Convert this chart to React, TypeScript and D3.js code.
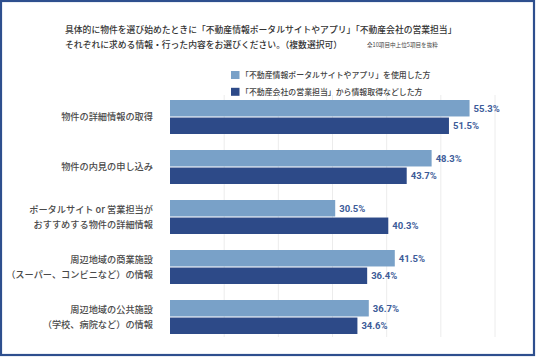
import React from "react";
import * as d3 from "d3";

const categories: string[][] = [
  ["物件の詳細情報の取得"],
  ["物件の内見の申し込み"],
  ["ポータルサイト or 営業担当が", "おすすめする物件の詳細情報"],
  ["周辺地域の商業施設", "（スーパー、コンビニなど）の情報"],
  ["周辺地域の公共施設", "（学校、病院など）の情報"],
];
const portalValues = [55.3, 48.3, 30.5, 41.5, 36.7];
const salesValues = [51.5, 43.7, 40.3, 36.4, 34.6];
const seriesNames = [
  "「不動産情報ポータルサイトやアプリ」を使用した方",
  "「不動産会社の営業担当」から情報取得などした方",
];
const gridTicks = [10, 20, 30, 40, 50, 60];
const titleLines = [
  "具体的に物件を選び始めたときに「不動産情報ポータルサイトやアプリ」「不動産会社の営業担当」",
  "それぞれに求める情報・行った内容をお選びください。（複数選択可）",
];
const note = "全10項目中上位5項目を抜粋";

const W = 536;
const H = 357;
const LIGHT = "#79a1c8";
const DARK = "#2d4a88";
const FONT = "'Noto Sans CJK JP', 'Noto Sans', sans-serif";
const NUMFONT = "'Liberation Sans Narrow', 'Roboto', sans-serif";

export default function App() {
  const keys = categories.map((c) => c.join(""));
  const x = d3.scaleLinear().domain([0, 60]).range([170, 495]);
  const y = d3
    .scaleBand<string>()
    .domain(keys)
    .range([92, 342])
    .paddingInner(0.32)
    .paddingOuter(0.16);
  const sub = d3
    .scaleBand<string>()
    .domain(["portal", "sales"])
    .range([0, y.bandwidth()])
    .paddingInner(0.06);
  const series = [
    { key: "portal", values: portalValues, color: LIGHT },
    { key: "sales", values: salesValues, color: DARK },
  ];

  return (
    <svg
      width={W}
      height={H}
      style={{ position: "absolute", left: 0, top: 0, background: "#fff" }}
    >
      <rect x={1} y={1} width={W - 3} height={H - 3} fill="#fff" stroke="#2e4f8e" strokeWidth={2.2} />
      {titleLines.map((t, i) => (
        <text key={i} x={65} y={32.5 + i * 15} fontFamily={FONT} fontSize={8.8} fontWeight={500} fill="#333">
          {t}
        </text>
      ))}
      <text x={367} y={46.5} fontFamily={FONT} fontSize={5.6} fill="#444">
        {note}
      </text>
      {series.map((s, i) => (
        <g key={s.key}>
          <rect x={231} y={71 + i * 16.8} width={8.5} height={8} fill={s.color} />
          <text x={241} y={75 + i * 16.8} dy="0.35em" fontFamily={FONT} fontSize={7.9} fontWeight={500} fill="#444">
            {seriesNames[i]}
          </text>
        </g>
      ))}
      {gridTicks.map((t) => (
        <line key={t} x1={x(t)} x2={x(t)} y1={95} y2={337} stroke="#ececec" strokeWidth={1} />
      ))}
      {keys.map((k, ci) => {
        const y0 = y(k)!;
        const lines = categories[ci];
        const cy = y0 + y.bandwidth() / 2;
        return (
          <g key={k}>
            {lines.map((ln, li) => (
              <text
                key={li}
                x={153}
                y={cy + (li - (lines.length - 1) / 2) * 15}
                dy="0.35em"
                textAnchor="end"
                fontFamily={FONT}
                fontSize={9.2}
                fontWeight={500}
                fill="#4a4a4a"
              >
                {ln}
              </text>
            ))}
            {series.map((s) => {
              const v = s.values[ci];
              const by = y0 + sub(s.key)!;
              return (
                <g key={s.key}>
                  <rect x={x(0)} y={by} width={x(v) - x(0)} height={sub.bandwidth()} fill={s.color} />
                  <text
                    x={x(v) + 4}
                    y={by + sub.bandwidth() / 2}
                    dy="0.35em"
                    fontFamily={NUMFONT}
                    fontSize={9.5}
                    fontWeight={700}
                    fill="#3d5c99"
                  >
                    {v.toFixed(1)}%
                  </text>
                </g>
              );
            })}
          </g>
        );
      })}
    </svg>
  );
}
